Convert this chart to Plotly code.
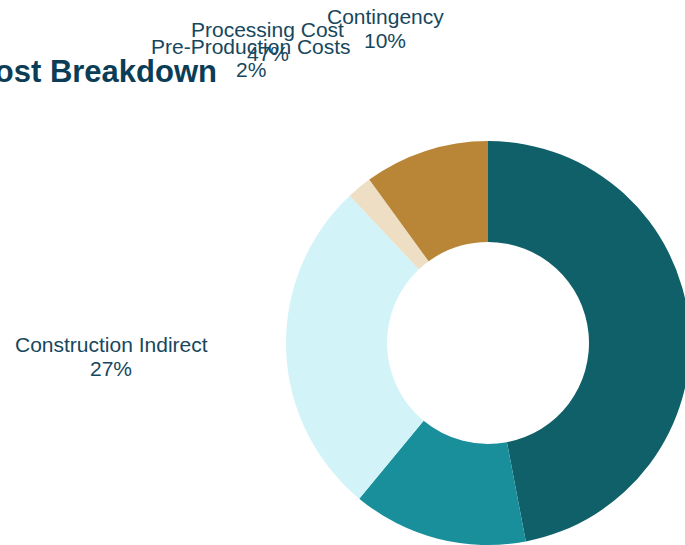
import plotly.graph_objects as go

# ---- data ----
labels = ["Processing Cost", "Construction Direct", "Construction Indirect", "Pre-Production Costs", "Contingency"]
values = [47, 14, 27, 2, 10]
colors = ["#10606a", "#188f9b", "#d2f3f7", "#eddec4", "#b88636"]
title_text = "Capital Cost Breakdown"

# ---- layout geometry (pixels) ----
W, H = 720, 580
pie_cx, pie_cy, pie_r = 488, 343, 202
FONT = "Liberation Sans, Arial, Helvetica, sans-serif"
LABEL_SIZE = 21
LINE_GAP = 23.5
TITLE_SIZE = 31
# centre of the first text line of each visible label block (pixels from top-left)
label_anchor = {
    "Contingency": (385, 16.7),
    "Processing Cost": (267.6, 29.7),
    "Pre-Production Costs": (250.5, 46),
    "Construction Indirect": (111, 344.7),
}

total = sum(values)
pct = {lab: f"{round(v / total * 100):.0f}%" for lab, v in zip(labels, values)}

fig = go.Figure(go.Pie(
    labels=labels, values=values, hole=0.5, sort=False, direction="clockwise", rotation=0,
    marker=dict(colors=colors, line=dict(width=0)),
    textinfo="none", showlegend=False,
    hovertemplate="%{label}: %{percent}<extra></extra>",
    domain=dict(x=[(pie_cx - pie_r) / W, (pie_cx + pie_r) / W],
                y=[1 - (pie_cy + pie_r) / H, 1 - (pie_cy - pie_r) / H]),
))

annotations = []
for lab in labels:
    if lab not in label_anchor:
        continue  # this label falls outside the visible window
    ax, ay = label_anchor[lab]
    for k, txt in enumerate([lab, pct[lab]]):
        annotations.append(dict(
            text=txt, x=ax / W, y=1 - (ay + k * LINE_GAP) / H, xref="paper", yref="paper",
            xanchor="center", yanchor="middle", showarrow=False,
            font=dict(family=FONT, size=LABEL_SIZE, color="#17475d"),
        ))

fig.update_layout(
    width=W, height=H,
    margin=dict(l=0, r=0, t=0, b=0),
    paper_bgcolor="white", plot_bgcolor="white",
    annotations=annotations,
    title=dict(text=title_text, x=217 / W, xanchor="right", xref="container",
               y=1 - (82.3 - 0.3465 * TITLE_SIZE) / H, yanchor="middle", yref="container",
               pad=dict(t=0, b=0, l=0, r=0),
               font=dict(family=FONT, size=TITLE_SIZE, weight=700, color="#0c3d57")),
)
fig.write_html("out.html")
